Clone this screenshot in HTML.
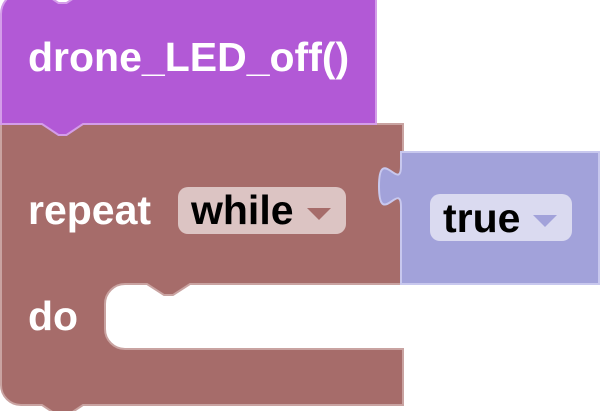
<!DOCTYPE html>
<html>
<head>
<meta charset="utf-8">
<style>
  html, body { margin: 0; padding: 0; background: #ffffff; }
  body { width: 600px; height: 411px; overflow: hidden; }
  svg { display: block; }
  text { font-family: "Liberation Sans", Arial, sans-serif; font-weight: bold; font-size: 41px; }
</style>
</head>
<body>
<svg width="600" height="411" viewBox="0 0 600 411" xmlns="http://www.w3.org/2000/svg">
  <!-- brown repeat block -->
  <path d="M1,124 H403 V284 H190 l-17,11 h-9 l-17,-11 H125 a20,20 0 0 0 -20,20 V329 a20,20 0 0 0 20,20 H403 V405 H83 l-16.5,11 h-8 L42,405 H21 a20,20 0 0 1 -20,-20 Z"
        fill="#a66c6a" stroke="#c9a3a1" stroke-width="2"/>
  <!-- purple block -->
  <path d="M1,14 a22,22 0 0 1 22,-22 H42 l16.5,11 h8 l16.5,-11 H376 V124 H83 l-16.5,11 h-8 L42,124 H1 Z"
        fill="#b259d6" stroke="#d49de9" stroke-width="2"/>
  <!-- blue value block -->
  <path d="M401,152 H599 V284 H401 V207 c0,-27.5 -22,22 -22,-20.6 s22,6.9 22,-20.6 Z"
        fill="#a2a2da" stroke="#c8c8ee" stroke-width="2"/>

  <text x="28" y="71" fill="#ffffff">drone_LED_off()</text>

  <text x="28" y="224" fill="#ffffff">repeat</text>
  <rect x="178" y="187" width="168" height="47" rx="10" ry="10" fill="#dcc4c3"/>
  <text x="191" y="224" fill="#000000">while</text>
  <polygon points="307,208 331,208 319,220" fill="#a66c6a"/>

  <rect x="430" y="194" width="142" height="47" rx="10" ry="10" fill="#dadaf0"/>
  <text x="443" y="232" fill="#000000">true</text>
  <polygon points="533,215 557,215 545,227" fill="#a2a2da"/>

  <text x="28" y="330" fill="#ffffff">do</text>
</svg>
</body>
</html>
